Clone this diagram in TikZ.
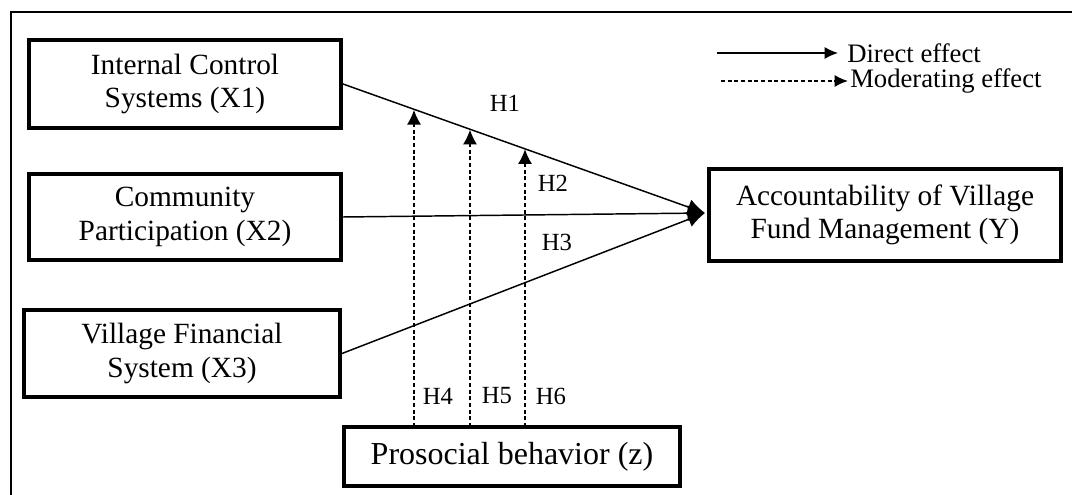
\documentclass[tikz,border=0pt]{standalone}
\usepackage{fontspec}
\setmainfont{Liberation Serif}
\usetikzlibrary{arrows.meta,calc}
\begin{document}
\begin{tikzpicture}[x=0.75pt,y=-0.75pt,
  box/.style={draw,line width=3pt,align=center,inner sep=0pt,font=\fontsize{22}{25}\selectfont},
  conn/.style={line width=1.1pt,-{Latex[length=13pt,width=12pt]}},
  moder/.style={line width=1.1pt,dash pattern=on 3pt off 2pt,-{Latex[length=11pt,width=10.5pt]}},
  legsolid/.style={line width=1.1pt,-{Latex[length=10pt,width=9pt]}},
  legdash/.style={line width=1.1pt,dash pattern=on 3pt off 2pt,-{Latex[length=10pt,width=9pt]}},
  hlab/.style={font=\fontsize{18.5}{20}\selectfont,inner sep=0pt},
  legtext/.style={font=\fontsize{20}{22}\selectfont,anchor=west,inner sep=0pt}]
\useasboundingbox (0,0) rectangle (1072,495);
\fill[white] (0,0) rectangle (1072,495);
% outer frame
\draw[line width=1.2pt] (11,495) -- (11,12) -- (1072,12);
% boxes
\node[box,minimum width=234pt,minimum height=66pt] (x1) at (185,84) {Internal Control\\Systems (X1)};
\node[box,minimum width=234pt,minimum height=65pt] (x2) at (185,217) {Community\\Participation (X2)};
\node[box,minimum width=237pt,minimum height=65pt] (x3) at (182,353.5) {Village Financial\\System (X3)};
\node[box,minimum width=264pt,minimum height=69pt] (y) at (885,215) {Accountability of Village\\Fund Management (Y)};
\node[box,minimum width=252pt,minimum height=44pt,font=\fontsize{24}{26}\selectfont] (z) at (512,456.5) {Prosocial behavior (z)};
% direct effects
\coordinate (tip) at (705,213);
\draw[conn] (x1.east) -- (tip);
\draw[conn] (x2.east) -- (tip);
\draw[conn] (x3.east) -- (tip);
% moderating effects
\coordinate (s1) at (414,427);
\coordinate (s2) at (470,427);
\coordinate (s3) at (525,427);
\coordinate (m1) at (414,109.9);
\coordinate (m2) at (470,129.7);
\coordinate (m3) at (525,149.2);
\draw[moder] (s1) -- (m1);
\draw[moder] (s2) -- (m2);
\draw[moder] (s3) -- (m3);
% labels
\node[hlab] (h1) at (505,103) {H1};
\node[hlab] (h2) at (553,183) {H2};
\node[hlab] (h3) at (557,242) {H3};
\node[hlab] (h4) at (438,396) {H4};
\node[hlab] (h5) at (497,396) {H5};
\node[hlab] (h6) at (551,396) {H6};
% legend
\coordinate (l1a) at (717,53);
\coordinate (l1b) at (838,53);
\coordinate (l2a) at (721,81);
\coordinate (l2b) at (848,81);
\draw[legsolid] (l1a) -- (l1b);
\draw[legdash] (l2a) -- (l2b);
\node[legtext] (t1) at (847,53) {Direct effect};
\node[legtext] (t2) at (850,81) {Moderating effect};
\end{tikzpicture}
\end{document}
